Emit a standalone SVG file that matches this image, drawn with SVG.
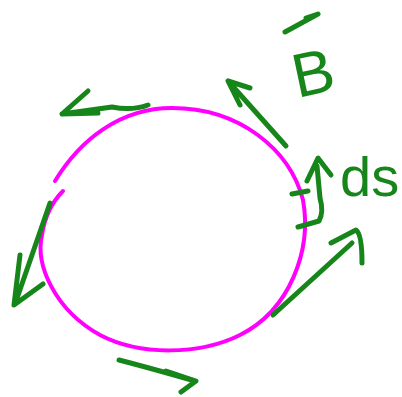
<svg xmlns="http://www.w3.org/2000/svg" width="402" height="397" viewBox="0 0 402 397">
<style>
.loop{fill:none;stroke:#ff00ff;stroke-width:4;stroke-linecap:round}
.g{fill:none;stroke:#17861a;stroke-width:5;stroke-linecap:round;stroke-linejoin:round}
.t{fill:#17861a;font-family:"Liberation Sans",Arial,sans-serif}
</style>
<rect width="402" height="397" fill="#ffffff"/>
<g id="loop">
<path class="loop" d="M55,181 C80,140 120,108 172,108 C240,108 290,150 303,200 C312,250 290,310 240,335 C200,355 140,356 100,335 C55,310 35,265 42,235 C45,215 52,202 63,191"/>
</g>
<g id="connectors">
<path class="g" d="M148,105 Q132,111 112,107 L62,114 M88,91 L62,114 L98,113"/>
<path class="g" d="M286,146 L228,81 M240,105 L228,81 L250,88"/>
<path class="g" d="M273,315 L352,243 M331,243 L356,230 Q362,234 362,263"/>
<path class="g" d="M119,360 Q150,368 195,381 M166,371 L196,381 L181,392"/>
<path class="g" d="M50,203 L15,304 M20,255 L14,305 L43,284"/>
<path class="g" d="M298,227 L319,221 Q324,212 320,198 L317,166 M307,181 L318,158 L331,175 M292,194 L308,191"/>
</g>
<g id="label-B">
<path class="g" d="M285,32 L318,14 L306,18"/>
<text class="t" x="292" y="93" font-size="62" transform="rotate(-12 318 70)">B</text>
</g>
<g id="label-ds">
<text class="t" x="340" y="196" font-size="56">ds</text>
</g>
</svg>
